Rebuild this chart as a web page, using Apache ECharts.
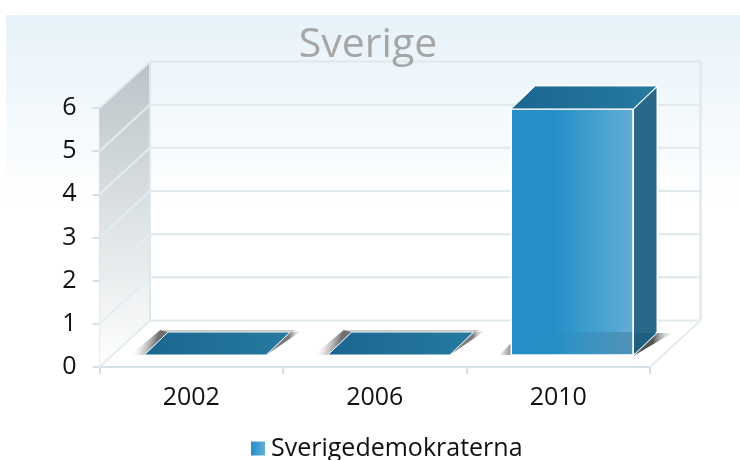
<!DOCTYPE html>
<html><head><meta charset="utf-8">
<style>html,body{margin:0;padding:0;background:#fff}#c{width:740px;height:460px}</style>
<script src="https://cdn.jsdelivr.net/npm/echarts@6/dist/echarts.min.js"></script>
</head><body><div id="c"></div>
<script>
const titleText = 'Sverige';
const seriesName = 'Sverigedemokraterna';
const categories = ['2002', '2006', '2010'];
const values = [0, 0, 5.7];
const yTicks = [0, 1, 2, 3, 4, 5, 6];

const FONT = '"Open Sans"';
const WALL = [50.5, -46.5], BAR_OFF = [14, -12], DEPTH = [24, -23];
const chart = echarts.init(document.getElementById('c'));
const lg = (x, y, x2, y2, a, b) => new echarts.graphic.LinearGradient(x, y, x2, y2, [{offset: 0, color: a}, {offset: 1, color: b}]);
const poly = (points, style, z2) => ({type: 'polygon', shape: {points}, style, z2: z2 || 0, silent: true});
const ln = (a, b, stroke, w, z2) => ({type: 'line', shape: {x1: a[0], y1: a[1], x2: b[0], y2: b[1]}, style: {stroke, lineWidth: w || 2}, z2: z2 || 1, silent: true});
const add = (p, d) => [p[0] + d[0], p[1] + d[1]];

function renderFrame(params, api) {
  const v = api.value(0);
  const a = api.coord([categories[0], v]);
  const left = params.coordSys.x, right = left + params.coordSys.width;
  const A = [left, a[1]], B = add(A, WALL), C = [right, a[1]], D = add(C, WALL);
  const children = [ln(A, B, '#e3edf0', 2), ln(B, D, '#dfe9ec', 2)];
  if (v === 0) {
    children.push(ln(C, D, '#e3edf0', 2));
    const top = api.coord([categories[0], yTicks[yTicks.length - 1]])[1];
    children.unshift(poly([[left, top], add([left, top], WALL), add(A, WALL), A],
      {fill: lg(0, 0, 0, 1, '#bac4c8', '#ffffff')}, -1));
    children.push(ln(add([left, top], WALL), B, '#dde8ec', 2));
    children.push(ln(add([right, top], WALL), D, '#e3edf0', 3));
  }
  return {type: 'group', children};
}

function renderBar(params, api) {
  const cat = api.value(0), val = api.value(1);
  const c0 = api.coord([cat, 0]), c1 = api.coord([cat, val]);
  const band = api.size([1, 0])[0];
  const w = band * 0.665;
  const x0 = c0[0] - w / 2 + BAR_OFF[0], x1 = x0 + w;
  const yB = c0[1] + BAR_OFF[1], yT = c1[1] + BAR_OFF[1];
  const [dx, dy] = DEPTH;
  const kids = [];
  if (val === 0) {
    kids.push(poly([[x0 - 14, yB], [x0, yB], [x0 + dx, yB + dy], [x0 + dx - 8, yB + dy - 2]],
      {fill: lg(0.2, 0.4, 0.68, 0.6, 'rgba(190,190,190,0.05)', '#6f6f6f')}));
    kids.push(poly([[x0 + dx - 6, yB + dy - 2], [x1 + dx + 6, yB + dy - 2], [x1 + dx, yB + dy], [x0 + dx, yB + dy]],
      {fill: lg(0, 0, 0, 1, '#d5d5d5', '#9a9a9a')}));
    kids.push(poly([[x1, yB], [x1 + dx, yB + dy], [x1 + dx + 11, yB + dy - 1]],
      {fill: lg(0.65, 0, 1, 0, '#7a7a7a', 'rgba(200,200,200,0)')}));
  } else {
    kids.push(poly([[x1, yB + 1], [x1 + dx, yB + dy + 1], [x1 + dx + 15, yB + dy + 1]],
      {fill: lg(0.5, 0, 1, 0, '#555', 'rgba(200,200,200,0.1)')}));
    kids.push(poly([[x0 - 12, yB], [x0, yB - 12], [x0, yB]],
      {fill: lg(0, 0, 1, 0, 'rgba(170,170,170,0.1)', '#8a8a8a')}));
    kids.push({type: 'rect', shape: {x: x0, y: yT, width: w, height: yB - yT}, silent: true,
      style: {fill: new echarts.graphic.LinearGradient(0, 0, 1, 0, [
        {offset: 0, color: '#248fc7'}, {offset: 0.36, color: '#2590c7'}, {offset: 1, color: '#63add6'}]), stroke: '#fff', lineWidth: 1.5}});
    kids.push({type: 'rect', shape: {x: x0 + 1, y: yB - 23, width: w - 2, height: 22}, silent: true,
      style: {fill: lg(0, 0, 1, 0, 'rgba(36,143,199,0)', 'rgba(50,100,130,0.38)')}});
    kids.push(poly([[x1, yT], [x1 + dx, yT + dy], [x1 + dx, yB + dy], [x1, yB]],
      {fill: '#2a6889', stroke: '#fff', lineWidth: 1.5}));
    kids.push(poly([[x1 + 1, yB + dy + 1], [x1 + dx - 1, yB + dy + 1], [x1 + 1, yB - 1]],
      {fill: '#1f5f80'}));
  }
  kids.push(poly([[x0, yT], [x0 + dx, yT + dy], [x1 + dx, yT + dy], [x1, yT]],
    {fill: lg(0, 0, 1, 0, '#1a6690', '#267aa0'), stroke: '#fff', lineWidth: 1}));
  return {type: 'group', children: kids};
}

chart.setOption({
  animation: false,
  backgroundColor: '#fff',
  textStyle: {fontFamily: FONT},
  title: {text: titleText, left: 363, top: 20, textAlign: 'center',
    textStyle: {fontFamily: FONT, fontSize: 41, fontWeight: 400, color: '#a6a6a6'}},
  graphic: [{type: 'rect', z: -10, silent: true, shape: {x: 6, y: 15, width: 734, height: 190},
    style: {fill: lg(0, 0, 0, 1, '#e6f2f9', '#ffffff')}}],
  legend: {show: true, left: 246, top: 431, itemWidth: 14, itemHeight: 14, itemGap: 6,
    textStyle: {fontFamily: FONT, fontSize: 25, color: '#111', padding: [0, 0, 0, 1]},
    data: [{name: seriesName, icon: 'rect', itemStyle: {color: lg(0, 0, 1, 0, '#248fc7', '#63add6')}}]},
  grid: {left: 99.5, width: 550.5, top: 108, height: 259},
  xAxis: {type: 'category', data: categories,
    axisLine: {show: true, lineStyle: {color: '#d3e0e7', width: 2}},
    axisTick: {show: true, alignWithLabel: false, length: 7, lineStyle: {color: '#d3e0e7', width: 2}},
    axisLabel: {color: '#111', fontFamily: FONT, fontSize: 25, margin: 18}},
  yAxis: {type: 'value', min: 0, max: 6, interval: 1,
    axisLine: {show: true, lineStyle: {color: '#d3e0e7', width: 2}},
    axisTick: {show: true, length: 7, lineStyle: {color: '#d3e0e7', width: 2}},
    splitLine: {show: false},
    axisLabel: {color: '#111', fontFamily: FONT, fontSize: 25, margin: 23, padding: [6, 0, 0, 0]}},
  series: [
    {type: 'custom', silent: true, z: 1, renderItem: renderFrame, coordinateSystem: 'cartesian2d',
      data: yTicks.map(t => [t]), encode: {y: 0}, tooltip: {show: false}},
    {type: 'custom', name: seriesName, z: 3, renderItem: renderBar, coordinateSystem: 'cartesian2d',
      itemStyle: {color: '#248fc7'},
      data: categories.map((c, i) => [i, values[i]]), encode: {x: 0, y: 1}}
  ]
});
</script></body></html>
